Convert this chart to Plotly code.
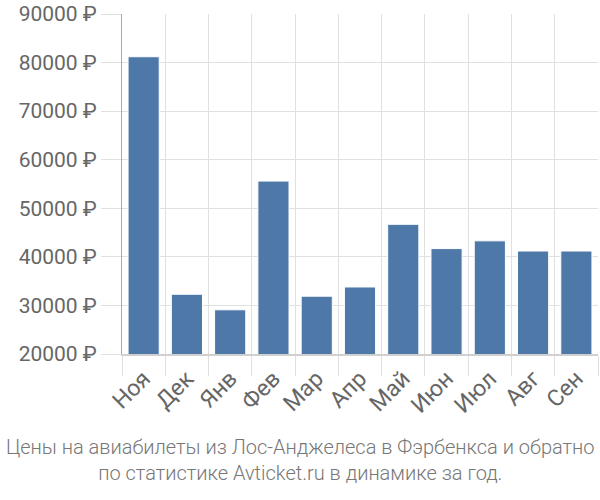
import plotly.graph_objects as go

months = ["Ноя", "Дек", "Янв", "Фев", "Мар", "Апр", "Май", "Июн", "Июл", "Авг", "Сен"]
prices = [81200, 32300, 29100, 55600, 31900, 33800, 46700, 41700, 43300, 41200, 41200]
y_ticks = [20000, 30000, 40000, 50000, 60000, 70000, 80000, 90000]
y_labels = [f"{v} ₽" for v in y_ticks]
title_lines = ["Цены на авиабилеты из Лос-Анджелеса в Фэрбенкса и обратно",
               "по статистике Avticket.ru в динамике за год."]

grid = "#e0e0e0"
fig = go.Figure(go.Bar(
    x=months, y=prices,
    marker=dict(color="#4d78a8", line=dict(color="#ffffff", width=1)),
))
fig.update_layout(
    width=600, height=500,
    margin=dict(l=122, r=2, t=14, b=146),
    paper_bgcolor="white", plot_bgcolor="white",
    font=dict(family="Roboto", color="#666666", size=20),
    bargap=0.28,
    showlegend=False,
    annotations=[dict(
        text="<br>".join(title_lines), xref="paper", yref="paper",
        x=(300 - 122) / 476, y=-0.232, xanchor="center", yanchor="top",
        showarrow=False, font=dict(size=20, color="#777777", family="Roboto", weight=300),
        align="center",
    )],
)
fig.update_xaxes(
    type="category", tickson="boundaries", showgrid=True, gridcolor=grid, gridwidth=1,
    ticks="outside", ticklen=20, tickcolor=grid, tickangle=-45,
    tickfont=dict(size=23, color="#666666"),
    showline=True, linecolor="#d0d0d0", linewidth=2,
)
fig.update_yaxes(
    range=[20000, 90000], tickvals=y_ticks, ticktext=y_labels,
    showgrid=True, gridcolor=grid, gridwidth=1,
    ticks="outside", ticklen=20, tickcolor=grid,
    showline=True, linecolor="#aaaaaa", linewidth=1,
    tickfont=dict(size=21, color="#666666"), zeroline=False,
)
fig.write_html("out.html")
